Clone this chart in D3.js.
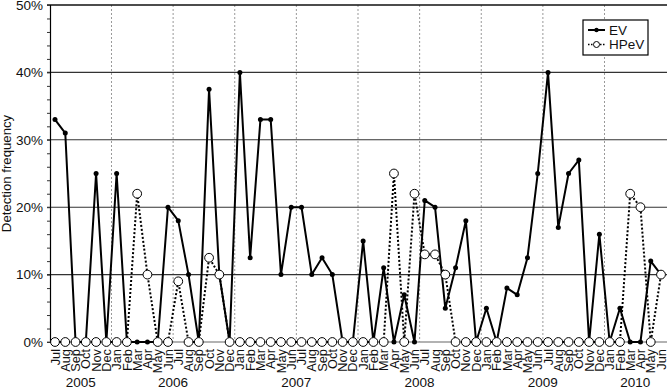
<!DOCTYPE html>
<html>
<head>
<meta charset="utf-8">
<script src="https://cdn.jsdelivr.net/npm/d3@7"></script>
<style>
  body { margin: 0; background: #fff; }
  svg { display: block; font-family: "Liberation Sans", Arial, sans-serif; }
</style>
</head>
<body>
<div id="chart"></div>
<script>
// months Jul 2005 .. Jun 2010
const months = ['Jul','Aug','Sep','Oct','Nov','Dec',
  'Jan','Feb','Mar','Apr','May','Jun','Jul','Aug','Sep','Oct','Nov','Dec',
  'Jan','Feb','Mar','Apr','May','Jun','Jul','Aug','Sep','Oct','Nov','Dec',
  'Jan','Feb','Mar','Apr','May','Jun','Jul','Aug','Sep','Oct','Nov','Dec',
  'Jan','Feb','Mar','Apr','May','Jun','Jul','Aug','Sep','Oct','Nov','Dec',
  'Jan','Feb','Mar','Apr','May','Jun'];
const ev = [33, 31, 0, 0, 25, 0,
  25, 0, 0, 0, 0, 20, 18, 10, 0, 37.5, 10, 0,
  40, 12.5, 33, 33, 10, 20, 20, 10, 12.5, 10, 0, 0,
  15, 0, 11, 0, 7, 0, 21, 20, 5, 11, 18, 0,
  5, 0, 8, 7, 12.5, 25, 40, 17, 25, 27, 0, 16,
  0, 5, 0, 0, 12, 10];
const hpev = [0, 0, 0, 0, 0, 0,
  0, 0, 22, 10, 0, 0, 9, 0, 0, 12.5, 10, 0,
  0, 0, 0, 0, 0, 0, 0, 0, 0, 0, 0, 0,
  0, 0, 0, 25, 0, 22, 13, 13, 10, 0, 0, 0,
  0, 0, 0, 0, 0, 0, 0, 0, 0, 0, 0, 0,
  0, 0, 22, 20, 0, 10];
const years = ['2005', '2006', '2007', '2008', '2009', '2010'];
const yearSpan = [[0, 5], [6, 17], [18, 29], [30, 41], [42, 53], [54, 59]];
const yTicks = [0, 10, 20, 30, 40, 50];
const legendNames = ['EV', 'HPeV'];

const width_svg = 667, height_svg = 390;
const margin = {top: 5, right: 0, bottom: 48, left: 50};

const svg = d3.select('#chart').append('svg')
  .attr('width', width_svg)
  .attr('height', height_svg);

const xScale = d3.scaleLinear()
  .domain([0, months.length - 1])
  .range([55, 661]);
const yScale = d3.scaleLinear()
  .domain([0, 50])
  .range([height_svg - margin.bottom, margin.top]);

// vertical dashed separators every six months
svg.append('g')
  .selectAll('line')
  .data(d3.range(5.5, months.length - 1, 6))
  .join('line')
  .attr('x1', d => xScale(d)).attr('x2', d => xScale(d))
  .attr('y1', yScale(50)).attr('y2', yScale(0))
  .attr('stroke', '#999')
  .attr('stroke-width', 1)
  .attr('stroke-dasharray', '2,2');

// horizontal grid
svg.append('g')
  .selectAll('line')
  .data(yTicks.filter(d => d > 0))
  .join('line')
  .attr('x1', margin.left - 3).attr('x2', width_svg)
  .attr('y1', d => yScale(d)).attr('y2', d => yScale(d))
  .attr('stroke', d => d === 50 ? '#111' : '#333')
  .attr('stroke-width', d => d === 50 ? 1.6 : 1.1);
svg.append('line')
  .attr('x1', margin.left - 3).attr('x2', width_svg)
  .attr('y1', yScale(0)).attr('y2', yScale(0))
  .attr('stroke', '#999')
  .attr('stroke-width', 1.5);

// y axis, minor ticks every 2%
const yAxis = g => g.attr('transform', `translate(${margin.left}, 0)`)
  .call(d3.axisLeft(yScale).tickValues(d3.range(0, 51, 2)).tickSize(3).tickFormat(''))
  .call(g => g.select('.domain').attr('stroke', '#000').attr('stroke-width', 1.2))
  .call(g => g.selectAll('.tick line').attr('stroke', '#333'));
svg.append('g').call(yAxis);

svg.append('g')
  .selectAll('text')
  .data(yTicks)
  .join('text')
  .attr('x', 43)
  .attr('y', d => yScale(d))
  .attr('dy', '0.36em')
  .attr('text-anchor', 'end')
  .attr('font-size', 13.5)
  .attr('fill', '#111')
  .text(d => d + '%');

svg.append('text')
  .attr('transform', `translate(11, ${yScale(25)}) rotate(-90)`)
  .attr('text-anchor', 'middle')
  .attr('font-size', 13.2)
  .attr('fill', '#111')
  .text('Detection frequency');

// month labels
svg.append('g')
  .selectAll('text')
  .data(months)
  .join('text')
  .attr('transform', (d, i) => `translate(${xScale(i)}, ${yScale(0) + 7}) rotate(-90)`)
  .attr('text-anchor', 'end')
  .attr('dy', '0.36em')
  .attr('font-size', 12.8)
  .attr('fill', '#111')
  .text(d => d);

// year labels
svg.append('g')
  .selectAll('text')
  .data(years)
  .join('text')
  .attr('x', (d, i) => xScale((yearSpan[i][0] + yearSpan[i][1]) / 2))
  .attr('y', 387)
  .attr('text-anchor', 'middle')
  .attr('font-size', 13.5)
  .attr('fill', '#111')
  .text(d => d);

const line = d3.line()
  .x((d, i) => xScale(i))
  .y(d => yScale(d));

// EV
svg.append('path')
  .attr('d', line(ev))
  .attr('fill', 'none')
  .attr('stroke', '#000')
  .attr('stroke-width', 2)
  .attr('stroke-linejoin', 'round');
svg.append('g')
  .selectAll('circle')
  .data(ev)
  .join('circle')
  .attr('cx', (d, i) => xScale(i))
  .attr('cy', d => yScale(d))
  .attr('r', 2.5)
  .attr('fill', '#000');

// HPeV
svg.append('path')
  .attr('d', line(hpev))
  .attr('fill', 'none')
  .attr('stroke', '#000')
  .attr('stroke-width', 2)
  .attr('stroke-dasharray', '2,2');
svg.append('g')
  .selectAll('circle')
  .data(hpev)
  .join('circle')
  .attr('cx', (d, i) => xScale(i))
  .attr('cy', d => yScale(d))
  .attr('r', 4.4)
  .attr('fill', '#fff')
  .attr('stroke', '#000')
  .attr('stroke-width', 1);

// legend
const g_legend = svg.append('g').attr('transform', 'translate(583, 20)');
g_legend.append('rect')
  .attr('width', 65).attr('height', 35)
  .attr('fill', '#fff')
  .attr('stroke', '#000')
  .attr('stroke-width', 1.2);
legendNames.forEach((name, i) => {
  const y = 10 + i * 14.5;
  g_legend.append('line')
    .attr('x1', 5).attr('x2', 22)
    .attr('y1', y).attr('y2', y)
    .attr('stroke', '#000')
    .attr('stroke-width', i === 0 ? 2 : 1.6)
    .attr('stroke-dasharray', i === 0 ? null : '1.5,1.5');
  g_legend.append('circle')
    .attr('cx', 13.5).attr('cy', y)
    .attr('r', i === 0 ? 2.2 : 3)
    .attr('fill', i === 0 ? '#000' : '#fff')
    .attr('stroke', '#000')
    .attr('stroke-width', i === 0 ? 0 : 1);
  g_legend.append('text')
    .attr('x', 26).attr('y', y)
    .attr('dy', '0.35em')
    .attr('font-size', 13.5)
    .attr('fill', '#111')
    .text(name);
});
</script>
</body>
</html>
